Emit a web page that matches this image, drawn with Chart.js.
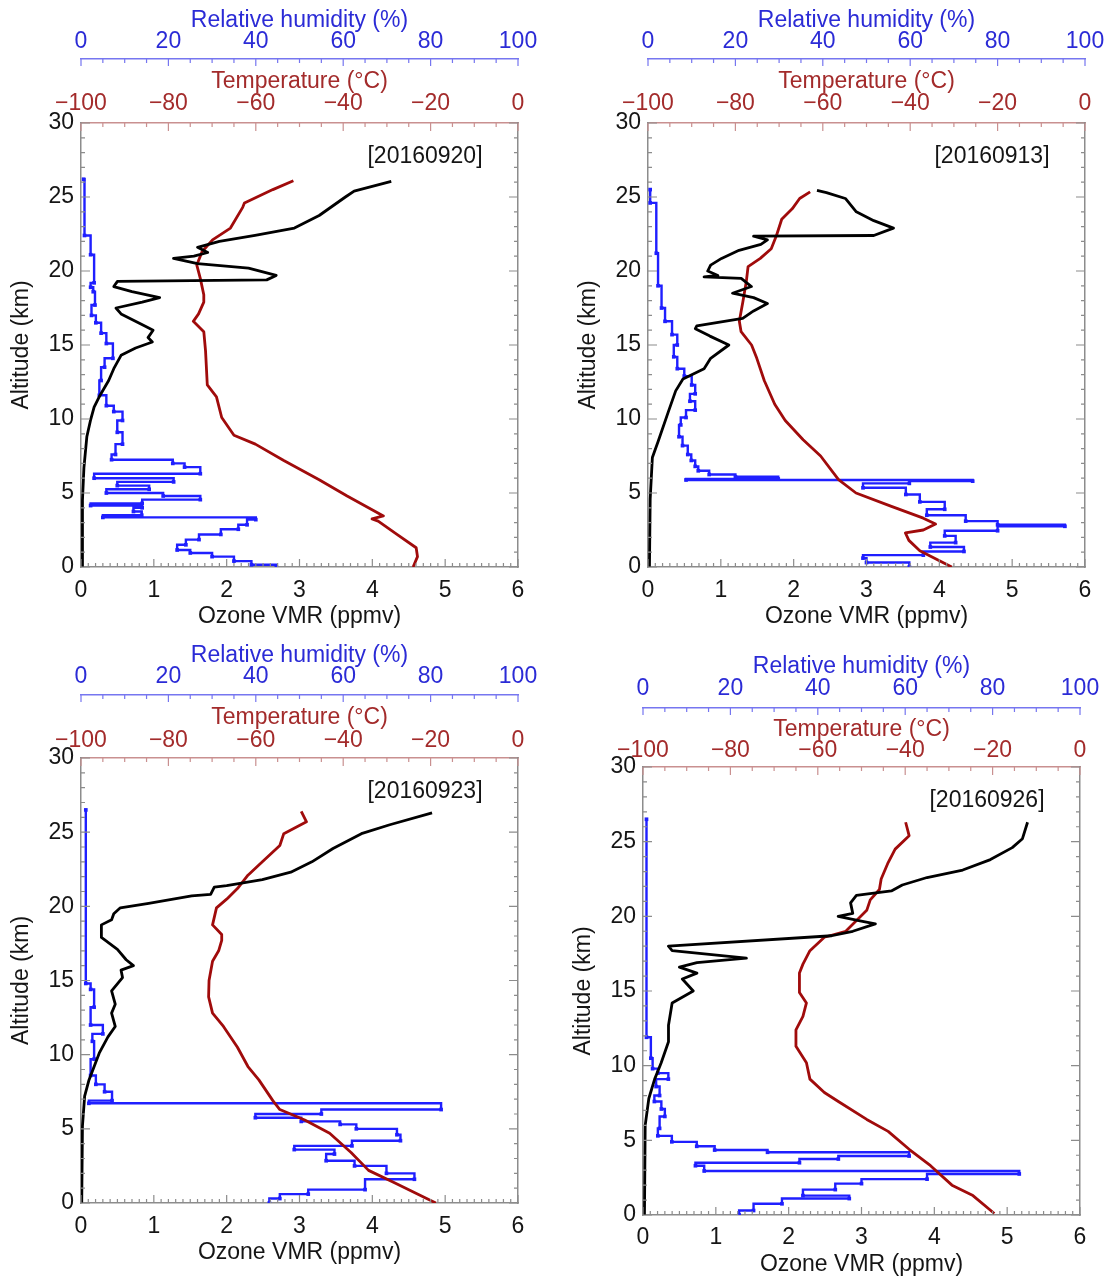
<!DOCTYPE html>
<html><head><meta charset="utf-8">
<script src="https://cdn.jsdelivr.net/npm/chart.js@4.4.1/dist/chart.umd.min.js"></script>
<style>
html,body{margin:0;padding:0;background:#fff;overflow:hidden;width:1110px;height:1282px;}
.p{position:absolute;}
canvas{display:block;}
</style></head><body>
<div class="p"><canvas id="c1"></canvas></div>
<div class="p"><canvas id="c2"></canvas></div>
<div class="p"><canvas id="c3"></canvas></div>
<div class="p"><canvas id="c4"></canvas></div>
<script>
// ---------- Axis ticks ----------
const ozoneTicks = [0, 1, 2, 3, 4, 5, 6];
const tempTicks = [-100, -80, -60, -40, -20, 0];
const rhTicks = [0, 20, 40, 60, 80, 100];
const altTicks = [0, 5, 10, 15, 20, 25, 30];

// ---------- 20160920 ----------
const o3Alt_0920 = [0, 4.5, 6.7, 8.8, 9.9, 10.8, 11.5, 12.6, 13.4, 14.3, 14.8, 15.2, 15.5, 16.0, 16.3, 17.1, 17.5, 17.9, 18.2, 18.6, 18.95, 19.3, 19.4, 19.7, 20.2, 20.5, 20.85, 21.0, 21.25, 21.6, 22.0, 22.4, 22.9, 23.75, 25.0, 25.4, 26.05];
const o3_0920 = [0.02, 0.02, 0.04, 0.08, 0.13, 0.18, 0.25, 0.38, 0.45, 0.55, 0.75, 0.98, 0.92, 0.99, 0.87, 0.55, 0.48, 0.84, 1.08, 0.7, 0.45, 0.5, 2.55, 2.68, 2.3, 1.6, 1.27, 1.55, 1.74, 1.6, 1.9, 2.39, 2.93, 3.27, 3.63, 3.75, 4.26];
const tAlt_0920 = [0, 0.7, 1.3, 2.2, 3.1, 3.25, 3.45, 4.8, 5.9, 7.2, 8.3, 8.9, 10.1, 11.5, 12.3, 14.6, 15.9, 16.6, 17.1, 17.9, 18.4, 19.5, 20.4, 21.3, 22.1, 22.9, 24.3, 24.6, 25.5, 26.1];
const t_0920 = [-24.0, -23.0, -23.3, -27.7, -32.0, -33.4, -30.8, -39.1, -45.5, -53.6, -60.1, -65.0, -67.8, -69.0, -71.1, -71.5, -71.9, -74.3, -73.1, -71.9, -71.9, -72.7, -73.5, -72.3, -69.9, -65.8, -63.0, -62.6, -56.1, -51.4];
const rhAlt_0920 = [0, 0.15, 0.4, 0.7, 0.95, 1.15, 1.5, 1.85, 2.2, 2.55, 2.85, 3.2, 3.35, 3.5, 3.75, 4.0, 4.15, 4.3, 4.55, 4.8, 5.0, 5.25, 5.5, 5.75, 6.0, 6.3, 6.75, 7.0, 7.25, 7.6, 8.3, 9.1, 9.9, 10.5, 10.9, 11.6, 12.6, 13.5, 14.1, 15.1, 15.8, 16.5, 17.0, 17.7, 18.6, 18.9, 19.2, 21.1, 22.4, 26.2];
const rh_0920 = [44.7, 39, 35, 30, 25, 22, 24, 27, 32, 36, 38, 40, 5, 13.9, 12, 14, 2.2, 14, 27.3, 18.8, 5.8, 15.6, 8.3, 21.2, 3, 27.3, 23.7, 21, 7, 7.9, 9.5, 8.3, 9.5, 7.5, 5.8, 4.2, 4.6, 5.4, 7.3, 5.8, 4.6, 3.4, 2.4, 3.2, 2.8, 2.2, 3, 2.2, 0.8, 0.6];

// ---------- 20160913 ----------
const o3Alt_0913 = [0, 4.6, 7.4, 8.5, 10.5, 11.9, 12.7, 13.4, 14.1, 15.0, 15.6, 16.1, 16.3, 16.8, 17.3, 17.8, 18.2, 18.5, 18.95, 19.5, 19.6, 19.7, 20.0, 20.4, 20.85, 21.4, 21.8, 22.1, 22.35, 22.4, 22.9, 23.4, 24.0, 24.9, 25.3, 25.45];
const o3_0913 = [0.02, 0.03, 0.06, 0.14, 0.28, 0.38, 0.48, 0.77, 0.86, 1.11, 0.85, 0.65, 0.67, 1.3, 1.45, 1.64, 1.45, 1.16, 1.42, 1.28, 0.77, 0.96, 0.82, 0.86, 1.01, 1.25, 1.55, 1.64, 1.45, 3.1, 3.37, 3.1, 2.86, 2.71, 2.45, 2.32];
const tAlt_0913 = [0, 1.1, 1.8, 2.3, 2.5, 2.9, 3.3, 4.1, 5.0, 5.9, 7.5, 8.6, 9.9, 11.0, 12.6, 14.1, 15.0, 15.9, 16.6, 17.9, 19.3, 20.3, 20.85, 21.5, 22.4, 23.5, 24.2, 24.9, 25.35];
const t_0913 = [-30.5, -37.8, -40.3, -41.1, -37.0, -34.2, -37.0, -44.3, -52.4, -56.4, -60.5, -64.5, -68.6, -71.0, -73.4, -75.1, -76.3, -78.7, -79.1, -78.3, -77.5, -77.1, -74.3, -71.8, -70.6, -69.4, -67.0, -65.3, -62.9];
const rhAlt_0913 = [0, 0.3, 0.6, 0.8, 1.05, 1.35, 1.65, 2.1, 2.45, 2.75, 2.85, 3.1, 3.5, 3.9, 4.4, 4.9, 5.35, 5.65, 5.8, 5.88, 5.95, 6.1, 6.25, 6.5, 6.8, 7.2, 7.6, 8.2, 8.8, 9.6, 10.1, 10.6, 11.2, 11.7, 12.3, 12.9, 13.4, 14.2, 15.0, 15.7, 16.6, 17.5, 19.0, 21.2, 24.6, 25.5];
const rh_0913 = [59.8, 50, 49.2, 63, 72.3, 64.6, 70.4, 67.9, 80, 95.4, 80, 72.7, 63.8, 67.9, 62.2, 59, 49.2, 59.8, 74.3, 8.7, 29.8, 20, 14, 11.5, 10.8, 9.9, 9.1, 7.9, 7.1, 7.5, 8.7, 10.8, 9.6, 10.8, 10, 8.3, 6.7, 5.9, 6.7, 5.5, 3.9, 3.1, 2.3, 1.9, 0.5, 0.5];

// ---------- 20160923 ----------
const o3Alt_0923 = [0, 5.2, 7.2, 8.3, 10.1, 11.2, 11.9, 12.8, 13.4, 14.3, 15.2, 15.7, 16.0, 16.4, 17.1, 17.9, 18.75, 19.1, 19.5, 19.9, 20.2, 20.7, 20.8, 21.3, 21.4, 21.8, 22.3, 23.0, 23.9, 24.9, 25.5, 26.3];
const o3_0923 = [0.01, 0.02, 0.05, 0.11, 0.25, 0.37, 0.47, 0.42, 0.47, 0.42, 0.57, 0.55, 0.72, 0.62, 0.5, 0.28, 0.28, 0.42, 0.45, 0.54, 0.93, 1.52, 1.78, 1.83, 2.0, 2.49, 2.88, 3.17, 3.46, 3.85, 4.24, 4.82];
const tAlt_0923 = [0, 1.4, 2.2, 3.4, 4.7, 5.6, 6.3, 6.9, 8.3, 9.2, 10.5, 11.9, 12.8, 13.9, 15.0, 16.3, 17.0, 17.7, 18.1, 18.75, 19.9, 20.5, 21.2, 22.1, 23.0, 24.1, 24.9, 25.7, 26.4];
const t_0923 = [-18.8, -28.5, -34.2, -38.2, -43.1, -48.8, -54.5, -56.1, -59.3, -61.8, -64.2, -67.4, -69.9, -70.8, -70.7, -69.9, -68.5, -67.8, -67.8, -69.9, -69.0, -66.6, -64.2, -61.8, -58.5, -54.5, -53.6, -48.4, -49.6];
const rhAlt_0923 = [0, 0.3, 0.6, 0.9, 1.6, 2.0, 2.5, 2.85, 3.3, 3.6, 3.85, 4.2, 4.6, 5.0, 5.3, 5.5, 5.75, 6.0, 6.3, 6.72, 6.9, 7.5, 8.0, 8.6, 9.7, 10.9, 11.4, 12.0, 13.2, 14.4, 14.8, 26.5];
const rh_0923 = [43.1, 45.5, 52, 65, 76.3, 69.9, 62.6, 56.1, 58, 48.8, 62, 73.1, 72.3, 63, 59.3, 50.4, 39.9, 55, 82.4, 1.8, 7.1, 5.4, 3.4, 2.2, 3, 2.6, 5, 2.2, 3, 2.2, 1.1, 1.1];

// ---------- 20160926 ----------
const o3Alt_0926 = [0, 6.0, 7.8, 9.1, 10.2, 11.6, 12.7, 14.2, 15.0, 15.8, 16.2, 16.6, 16.9, 17.2, 17.7, 18.0, 18.7, 19.0, 19.5, 19.7, 20.0, 20.2, 20.9, 21.4, 21.7, 22.1, 22.6, 23.1, 23.8, 24.6, 25.2, 26.3];
const o3_0926 = [0.02, 0.03, 0.08, 0.16, 0.25, 0.35, 0.35, 0.4, 0.69, 0.54, 0.74, 0.5, 0.74, 1.42, 0.4, 0.35, 2.59, 2.88, 3.19, 2.98, 2.68, 2.88, 2.85, 2.93, 3.41, 3.56, 3.9, 4.39, 4.77, 5.07, 5.21, 5.28];
const tAlt_0926 = [0.1, 1.3, 2.0, 3.3, 4.4, 5.6, 6.4, 7.6, 8.2, 9.1, 10.2, 11.3, 12.4, 13.3, 14.2, 14.9, 16.2, 16.8, 17.7, 18.6, 19.0, 19.7, 20.4, 21.1, 21.8, 22.5, 23.6, 24.5, 25.4, 26.3];
const t_0926 = [-19.6, -24.5, -29.3, -34.2, -39.1, -43.9, -48.8, -55.3, -58.5, -61.8, -62.6, -65.0, -65.0, -63.4, -62.6, -64.2, -64.2, -63.4, -61.8, -58.5, -53.6, -51.2, -48.8, -48.0, -45.9, -45.5, -43.9, -42.3, -39.1, -39.9];
const rhAlt_0926 = [0, 0.3, 0.75, 1.1, 1.3, 1.7, 2.1, 2.4, 2.75, 2.95, 3.3, 3.5, 3.75, 3.95, 4.2, 4.35, 4.6, 4.9, 5.3, 5.8, 6.6, 7.1, 7.6, 8.0, 8.6, 9.1, 9.5, 9.8, 10.5, 11.9, 26.5];
const rh_0926 = [22, 25.3, 31.8, 47.2, 36.6, 44, 50, 65, 86.1, 14, 12, 35.8, 44.7, 60.9, 28.5, 16.4, 12.3, 6.6, 3.4, 3.8, 5, 4.2, 2.6, 3.8, 3, 5.8, 3.4, 2.2, 1.8, 0.8, 0.8];

// ---------- styling ----------
const FONT = "'Liberation Sans', Arial, Helvetica, sans-serif";
Chart.defaults.font.family = FONT;
Chart.defaults.font.size = 23;
const GRAY = '#8c8c8c';
const RH_LINE = '#7676f0', RH_TEXT = '#2b2bd6';
const T_LINE = '#c99090', T_TEXT = '#a32b2b';
const TXT = '#151515';

function pts(xs, ys) { return xs.map((x, i) => ({ x: x, y: ys[i] })); }
function minus(v) { return v < 0 ? '\u2212' + Math.abs(v) : String(v); }
function stepOf(arr) { return arr[1] - arr[0]; }

const inTicks = {
  id: 'inTicks',
  afterDraw(chart, args, opts) {
    const ctx = chart.ctx;
    (opts.specs || []).forEach(s => {
      const sc = chart.scales[s.scale];
      const pos = sc.options.position;
      ctx.save();
      ctx.strokeStyle = s.color; ctx.lineWidth = 1.2;
      ctx.beginPath();
      const n = Math.round((sc.max - sc.min) / s.minor);
      for (let i = 0; i <= n; i++) {
        const v = sc.min + i * s.minor;
        const r = v / s.major;
        const len = Math.abs(r - Math.round(r)) < 1e-6 ? s.majorLen : s.minorLen;
        const p = sc.getPixelForValue(v);
        if (pos === 'top') { ctx.moveTo(p, sc.bottom); ctx.lineTo(p, sc.bottom + len); }
        else if (pos === 'bottom') { ctx.moveTo(p, sc.top); ctx.lineTo(p, sc.top - len); }
        else if (pos === 'left') { ctx.moveTo(sc.right, p); ctx.lineTo(sc.right + len, p); }
        else { ctx.moveTo(sc.left, p); ctx.lineTo(sc.left - len, p); }
      }
      ctx.stroke();
      ctx.restore();
    });
  }
};

const dateLabel = {
  id: 'dateLabel',
  afterDraw(chart, args, opts) {
    const a = chart.chartArea, ctx = chart.ctx;
    ctx.save();
    ctx.font = '23px ' + FONT;
    ctx.fillStyle = TXT; ctx.textAlign = 'center'; ctx.textBaseline = 'middle';
    ctx.fillText(opts.text, a.right - 93, a.top + 34);
    ctx.restore();
  }
};

function fixSize(prop, val) {
  return s => { s[prop] = val; s.paddingLeft = 0; s.paddingRight = 0; s.paddingTop = 0; s.paddingBottom = 0; };
}

function makePanel(c) {
  const cv = document.getElementById(c.id);
  cv.width = c.w; cv.height = c.h;
  cv.parentElement.style.left = c.left + 'px';
  cv.parentElement.style.top = c.top + 'px';
  const hx = (min, max, ticks, col, pad, cb) => ({
    type: 'linear', min: min, max: max,
    grid: { display: false, drawTicks: false },
    border: { display: true, color: col.line, width: 1.5 },
    ticks: { stepSize: stepOf(ticks), color: col.text, padding: pad, maxRotation: 0, minRotation: 0, autoSkip: false, callback: cb || (v => String(v)) }
  });
  const xO = hx(0, 6, ozoneTicks, { line: GRAY, text: TXT }, c.oLabPad);
  Object.assign(xO, { position: 'bottom',
    title: { display: true, text: 'Ozone VMR (ppmv)', color: TXT, padding: { top: 0, bottom: c.oTitlePad } },
    afterFit: fixSize('height', c.bH) });
  const xT = hx(-100, 0, tempTicks, { line: T_LINE, text: T_TEXT }, c.tLabPad, minus);
  Object.assign(xT, { position: 'top', weight: 1,
    title: { display: true, text: 'Temperature (\u00B0C)', color: T_TEXT, padding: { top: c.tTitlePad, bottom: 0 } },
    afterFit: fixSize('height', c.tH) });
  const xR = hx(0, 100, rhTicks, { line: RH_LINE, text: RH_TEXT }, c.rhLabPad);
  Object.assign(xR, { position: 'top', weight: 2,
    title: { display: true, text: 'Relative humidity (%)', color: RH_TEXT, padding: { top: c.rhTitlePad, bottom: 0 } },
    afterFit: fixSize('height', c.rhH) });

  new Chart(cv, {
    type: 'scatter',
    data: { datasets: [
      { label: 'Ozone', data: pts(c.o3, c.o3Alt), xAxisID: 'x', yAxisID: 'y', showLine: true,
        borderColor: '#000', borderWidth: 2.8, pointRadius: 0, borderJoinStyle: 'round' },
      { label: 'Temperature', data: pts(c.t, c.tAlt), xAxisID: 'xt', yAxisID: 'y', showLine: true,
        borderColor: '#a00b0b', borderWidth: 2.8, pointRadius: 0, borderJoinStyle: 'round' },
      { label: 'RH', data: pts(c.rh, c.rhAlt), xAxisID: 'xr', yAxisID: 'y', showLine: true, stepped: 'after',
        borderColor: '#1f1fff', borderWidth: 2.4, pointRadius: 2.6, pointStyle: 'rect',
        pointBackgroundColor: '#1f1fff', pointBorderColor: '#1f1fff', pointBorderWidth: 0 }
    ]},
    options: {
      responsive: false, animation: false, devicePixelRatio: 1, events: [],
      layout: { padding: 0, autoPadding: false },
      plugins: { legend: { display: false }, tooltip: { enabled: false },
        dateLabel: { text: c.date },
        inTicks: { specs: [
          { scale: 'x', major: 1, minor: 0.1, majorLen: 8, minorLen: 4, color: GRAY },
          { scale: 'xt', major: 20, minor: 5, majorLen: 8, minorLen: 4, color: T_LINE },
          { scale: 'xr', major: 20, minor: 5, majorLen: 7, minorLen: 4, color: RH_LINE },
          { scale: 'y', major: 5, minor: 1, majorLen: 9, minorLen: 4, color: GRAY },
          { scale: 'y2', major: 5, minor: 1, majorLen: 9, minorLen: 4, color: GRAY }
        ] } },
      scales: {
        x: xO, xt: xT, xr: xR,
        y: { type: 'linear', position: 'left', min: 0, max: 30,
          grid: { display: false, drawTicks: false },
          border: { display: true, color: GRAY, width: 1.5 },
          ticks: { stepSize: stepOf(altTicks), color: TXT, padding: 7, autoSkip: false },
          title: { display: true, text: 'Altitude (km)', color: TXT, padding: { top: 8, bottom: 0 } },
          afterFit: fixSize('width', c.yW) },
        y2: { type: 'linear', position: 'right', min: 0, max: 30,
          grid: { display: false, drawTicks: false },
          border: { display: true, color: GRAY, width: 1.5 },
          ticks: { display: false },
          afterFit: fixSize('width', c.rW) }
      }
    },
    plugins: [inTicks, dateLabel]
  });
}

makePanel({ id: 'c1', date: '[20160920]', left: 0, top: 0, w: 540, h: 640, yW: 81, rW: 22,
  rhH: 59, tH: 64, bH: 73, rhTitlePad: 7, rhLabPad: 4, tTitlePad: 9, tLabPad: 6, oLabPad: 10, oTitlePad: 10,
  o3: o3_0920, o3Alt: o3Alt_0920, t: t_0920, tAlt: tAlt_0920, rh: rh_0920, rhAlt: rhAlt_0920 });
makePanel({ id: 'c2', date: '[20160913]', left: 567, top: 0, w: 540, h: 640, yW: 81, rW: 22,
  rhH: 59, tH: 64, bH: 73, rhTitlePad: 7, rhLabPad: 4, tTitlePad: 9, tLabPad: 6, oLabPad: 10, oTitlePad: 10,
  o3: o3_0913, o3Alt: o3Alt_0913, t: t_0913, tAlt: tAlt_0913, rh: rh_0913, rhAlt: rhAlt_0913 });
makePanel({ id: 'c3', date: '[20160923]', left: 0, top: 635, w: 540, h: 641, yW: 81, rW: 22,
  rhH: 60, tH: 63, bH: 73, rhTitlePad: 7, rhLabPad: 5, tTitlePad: 9, tLabPad: 4, oLabPad: 10, oTitlePad: 10,
  o3: o3_0923, o3Alt: o3Alt_0923, t: t_0923, tAlt: tAlt_0923, rh: rh_0923, rhAlt: rhAlt_0923 });
makePanel({ id: 'c4', date: '[20160926]', left: 562, top: 646, w: 540, h: 636, yW: 81, rW: 22,
  rhH: 62, tH: 59, bH: 67, rhTitlePad: 7, rhLabPad: 6, tTitlePad: 8, tLabPad: 3, oLabPad: 9, oTitlePad: 4,
  o3: o3_0926, o3Alt: o3Alt_0926, t: t_0926, tAlt: tAlt_0926, rh: rh_0926, rhAlt: rhAlt_0926 });
</script>
</body></html>
